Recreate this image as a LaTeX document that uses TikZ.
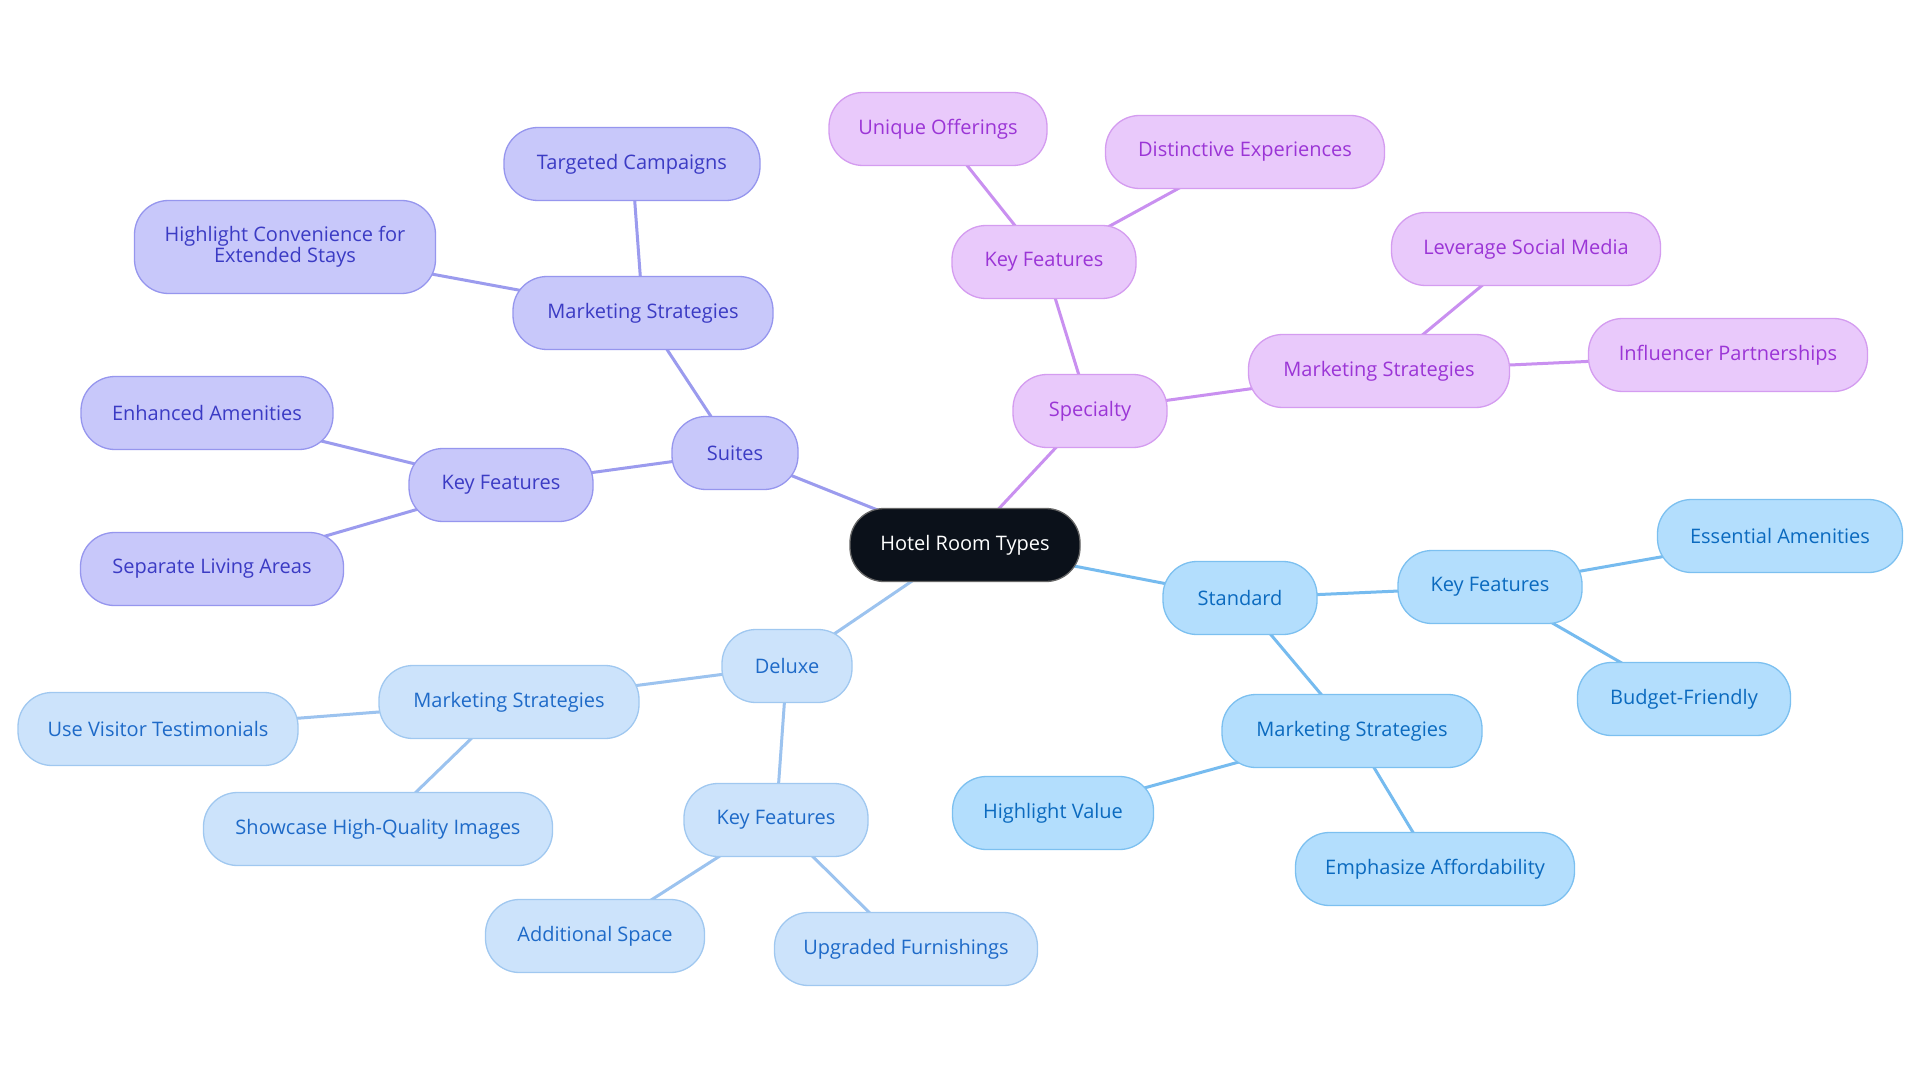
\documentclass[tikz,border=0pt]{standalone}
\usepackage{fontspec}
\setmainfont{Open Sans}
\usetikzlibrary{backgrounds}
\definecolor{suF}{RGB}{200,200,250}\definecolor{suB}{RGB}{150,150,238}\definecolor{suT}{RGB}{59,59,196}\definecolor{suL}{RGB}{155,155,238}
\definecolor{spF}{RGB}{233,201,251}\definecolor{spB}{RGB}{212,156,240}\definecolor{spT}{RGB}{155,53,214}\definecolor{spL}{RGB}{201,144,240}
\definecolor{stF}{RGB}{179,222,253}\definecolor{stB}{RGB}{124,192,240}\definecolor{stT}{RGB}{11,106,191}\definecolor{stL}{RGB}{118,187,239}
\definecolor{dlF}{RGB}{204,227,251}\definecolor{dlB}{RGB}{160,200,240}\definecolor{dlT}{RGB}{30,106,200}\definecolor{dlL}{RGB}{156,195,239}
\definecolor{ctF}{RGB}{11,17,26}
\tikzset{
  base/.style={rounded corners=34pt, minimum height=73pt, line width=1.3pt, inner sep=4pt, outer sep=0pt, align=center, font=\fontsize{20}{23}\selectfont},
  sui/.style={base, fill=suF, draw=suB, text=suT},
  spe/.style={base, fill=spF, draw=spB, text=spT},
  std/.style={base, fill=stF, draw=stB, text=stT},
  dlx/.style={base, fill=dlF, draw=dlB, text=dlT},
  ctr/.style={base, fill=ctF, draw=black!60, text=white},
  lsu/.style={draw=suL, line width=3pt},
  lsp/.style={draw=spL, line width=3pt},
  lst/.style={draw=stL, line width=3pt},
  ldl/.style={draw=dlL, line width=3pt},
}
\begin{document}
\begin{tikzpicture}[x=1pt,y=-1pt]
\path[use as bounding box] (0,0) rectangle (1920,1083);
\node[ctr, minimum width=230] (c) at (965,545) {Hotel Room Types};
% Suites
\node[sui, minimum width=126] (su) at (735,453) {Suites};
\node[sui, minimum width=184] (sukf) at (501,485) {Key Features};
\node[sui, minimum width=252] (suea) at (207,413) {Enhanced Amenities};
\node[sui, minimum width=263] (susl) at (212,569) {Separate Living Areas};
\node[sui, minimum width=260] (sums) at (643,313) {Marketing Strategies};
\node[sui, minimum width=256] (sutc) at (632,164) {Targeted Campaigns};
\node[sui, minimum width=301, minimum height=93] (suhc) at (285,247) {Highlight Convenience for\\[-2pt]Extended Stays};
% Specialty
\node[spe, minimum width=154] (sp) at (1090,411) {Specialty};
\node[spe, minimum width=184] (spkf) at (1044,262) {Key Features};
\node[spe, minimum width=218] (spuo) at (938,129) {Unique Offerings};
\node[spe, minimum width=279] (spde) at (1245,152) {Distinctive Experiences};
\node[spe, minimum width=261] (spms) at (1379,371) {Marketing Strategies};
\node[spe, minimum width=269] (spls) at (1526,249) {Leverage Social Media};
\node[spe, minimum width=279] (spip) at (1728,355) {Influencer Partnerships};
% Standard
\node[std, minimum width=154] (st) at (1240,598) {Standard};
\node[std, minimum width=184] (stkf) at (1490,587) {Key Features};
\node[std, minimum width=245] (stea) at (1780,536) {Essential Amenities};
\node[std, minimum width=213] (stbf) at (1684,699) {Budget-Friendly};
\node[std, minimum width=260] (stms) at (1352,731) {Marketing Strategies};
\node[std, minimum width=201] (sthv) at (1053,813) {Highlight Value};
\node[std, minimum width=279] (stef) at (1435,869) {Emphasize Affordability};
% Deluxe
\node[dlx, minimum width=130] (dl) at (787,666) {Deluxe};
\node[dlx, minimum width=260] (dlms) at (509,702) {Marketing Strategies};
\node[dlx, minimum width=280] (dlut) at (158,729) {Use Visitor Testimonials};
\node[dlx, minimum width=349] (dlsh) at (378,829) {Showcase High-Quality Images};
\node[dlx, minimum width=184] (dlkf) at (776,820) {Key Features};
\node[dlx, minimum width=219] (dlas) at (595,936) {Additional Space};
\node[dlx, minimum width=263] (dluf) at (906,949) {Upgraded Furnishings};
\begin{scope}[on background layer]
\fill[white] (0,0) rectangle (1920,1083);
\draw[lsu] (c.center) -- (su.center); \draw[lsu] (su.center) -- (sukf.center); \draw[lsu] (sukf.center) -- (suea.center); \draw[lsu] (sukf.center) -- (susl.center);
\draw[lsu] (su.center) -- (sums.center); \draw[lsu] (sums.center) -- (sutc.center); \draw[lsu] (sums.center) -- (suhc.center);
\draw[lsp] (c.center) -- (sp.center); \draw[lsp] (sp.center) -- (spkf.center); \draw[lsp] (spkf.center) -- (spuo.center); \draw[lsp] (spkf.center) -- (spde.center);
\draw[lsp] (sp.center) -- (spms.center); \draw[lsp] (spms.center) -- (spls.center); \draw[lsp] (spms.center) -- (spip.center);
\draw[lst] (c.center) -- (st.center); \draw[lst] (st.center) -- (stkf.center); \draw[lst] (stkf.center) -- (stea.center); \draw[lst] (stkf.center) -- (stbf.center);
\draw[lst] (st.center) -- (stms.center); \draw[lst] (stms.center) -- (sthv.center); \draw[lst] (stms.center) -- (stef.center);
\draw[ldl] (c.center) -- (dl.center); \draw[ldl] (dl.center) -- (dlms.center); \draw[ldl] (dlms.center) -- (dlut.center); \draw[ldl] (dlms.center) -- (dlsh.center);
\draw[ldl] (dl.center) -- (dlkf.center); \draw[ldl] (dlkf.center) -- (dlas.center); \draw[ldl] (dlkf.center) -- (dluf.center);
\end{scope}
\end{tikzpicture}
\end{document}
